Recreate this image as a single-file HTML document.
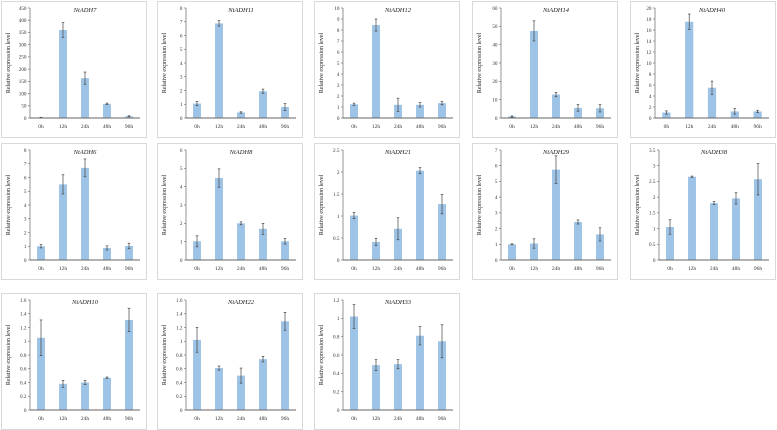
<!DOCTYPE html>
<html><head><meta charset="utf-8">
<style>
html,body{margin:0;padding:0;background:#fff;}
svg{display:block;font-family:"Liberation Serif",serif;}
</style></head>
<body>
<svg id="chart" width="777" height="430" viewBox="0 0 777 430"></svg>
<script>
const categories = ["0h","12h","24h","48h","96h"];
const geneNames = ["NtADH7","NtADH11","NtADH12","NtADH14","NtADH40","NtADH6","NtADH8","NtADH21","NtADH29","NtADH38","NtADH10","NtADH22","NtADH33"];
const yMaxes = [450,8,10,60,20,8,6,2.5,7,3.5,1.6,1.6,1.2];
const ySteps = [50,1,1,10,2,1,1,0.5,1,0.5,0.2,0.2,0.2];
const valuesADH7 = [2,360,163,58,7];
const errorsADH7 = [1,30,25,3,2];
const valuesADH11 = [1.05,6.88,0.4,1.95,0.8];
const errorsADH11 = [0.15,0.2,0.05,0.15,0.25];
const valuesADH12 = [1.25,8.45,1.2,1.2,1.35];
const errorsADH12 = [0.1,0.55,0.6,0.2,0.15];
const valuesADH14 = [0.8,47.5,12.8,5.5,5.3];
const errorsADH14 = [0.3,5.5,1.2,1.8,2];
const valuesADH40 = [1,17.5,5.5,1.2,1.2];
const errorsADH40 = [0.3,1.4,1.2,0.5,0.2];
const valuesADH6 = [1,5.5,6.7,0.88,1.02];
const errorsADH6 = [0.12,0.7,0.65,0.15,0.2];
const valuesADH8 = [1.02,4.47,2,1.7,1.02];
const errorsADH8 = [0.3,0.5,0.08,0.3,0.15];
const valuesADH21 = [1.01,0.41,0.71,2.03,1.27];
const errorsADH21 = [0.07,0.08,0.25,0.07,0.22];
const valuesADH29 = [1,1.05,5.75,2.42,1.63];
const errorsADH29 = [0.03,0.3,0.88,0.13,0.42];
const valuesADH38 = [1.05,2.65,1.81,1.96,2.57];
const errorsADH38 = [0.23,0.02,0.05,0.18,0.5];
const valuesADH10 = [1.05,0.38,0.4,0.47,1.31];
const errorsADH10 = [0.26,0.05,0.03,0.01,0.17];
const valuesADH22 = [1.02,0.61,0.5,0.74,1.29];
const errorsADH22 = [0.18,0.03,0.11,0.04,0.13];
const valuesADH33 = [1.02,0.49,0.5,0.81,0.75];
const errorsADH33 = [0.13,0.06,0.05,0.1,0.18];
const allValues = [valuesADH7,valuesADH11,valuesADH12,valuesADH14,valuesADH40,valuesADH6,valuesADH8,valuesADH21,valuesADH29,valuesADH38,valuesADH10,valuesADH22,valuesADH33];
const allErrors = [errorsADH7,errorsADH11,errorsADH12,errorsADH14,errorsADH40,errorsADH6,errorsADH8,errorsADH21,errorsADH29,errorsADH38,errorsADH10,errorsADH22,errorsADH33];

const NS="http://www.w3.org/2000/svg";
const svg=document.getElementById('chart');
function mk(tag,attrs,parent,text){const e=document.createElementNS(NS,tag);for(const k in attrs)e.setAttribute(k,attrs[k]);if(text!==undefined)e.textContent=text;(parent||svg).appendChild(e);return e;}
const colLefts=[1,157,314,472,630];
const rowTops=[1,143,293];
const boxW=145, boxH=136;
function fmt(v){return String(parseFloat(v.toFixed(2)));}

geneNames.forEach((name,i)=>{
  const r=Math.floor(i/5), c=i%5;
  const bx=colLefts[c], by=rowTops[r];
  const g=mk('g',{});
  
  
  const box=mk('rect',{x:bx+0.5,y:by+0.5,width:boxW,height:boxH,fill:'#fff',stroke:'#d9d9d9','stroke-width':1},g);
  
  
  const off=(r===0&&c===4)?25:29;
  const x0=bx+off, x1=bx+boxW-6;
  const yTop=by+7, yBot=by+117;
  const ymax=yMaxes[i], step=ySteps[i];
  const yS=v=>yBot-(v/ymax)*(yBot-yTop);
  const band=(x1-x0)/categories.length;
  const xS=k=>x0+band*(k+0.5);
  // title
  const t=mk('text',{x:(x0+x1)/2,y:by+11,'text-anchor':'middle','font-size':6.5,'font-style':'italic',fill:'#222'},g,name);
  
  
  // y axis title
  const yt=mk('text',{x:0,y:0,transform:`translate(${bx+9},${(yTop+yBot)/2}) rotate(-90)`,'text-anchor':'middle','font-size':6,fill:'#222'},g,'Relative expression level');
  
  
  // y ticks
  const n=Math.round(ymax/step);
  for(let k=0;k<=n;k++){
    const v=k*step, y=yS(v);
    const tk=mk('line',{x1:x0-2,x2:x0,y1:y,y2:y,stroke:'#666','stroke-width':0.6},g);
    
    
    const tl=mk('text',{x:x0-3.5,y:y+1.8,'text-anchor':'end','font-size':5.2,fill:'#333'},g,fmt(v));
    
    
  }
  // bars
  const vals=allValues[i], errs=allErrors[i];
  const bw=band*0.36;
  categories.forEach((cat,k)=>{
    const b=mk('rect',{x:xS(k)-bw/2,y:yS(vals[k]),width:bw,height:yBot-yS(vals[k]),fill:'#9dc3e6'},g);
    
    
    const lo=Math.max(0,vals[k]-errs[k]), hi=vals[k]+errs[k];
    const eg=mk('g',{stroke:'#444','stroke-width':0.7},g);
    
    
    mk('line',{x1:xS(k),x2:xS(k),y1:yS(lo),y2:yS(hi)},eg);
    mk('line',{x1:xS(k)-1.3,x2:xS(k)+1.3,y1:yS(lo),y2:yS(lo)},eg);
    mk('line',{x1:xS(k)-1.3,x2:xS(k)+1.3,y1:yS(hi),y2:yS(hi)},eg);
    const xl=mk('text',{x:xS(k),y:by+127,'text-anchor':'middle','font-size':5.5,fill:'#333'},g,cat);
    
    
  });
  const ya=mk('line',{x1:x0,x2:x0,y1:yTop,y2:yBot,stroke:'#666','stroke-width':0.7},g);
  
  
  const xa=mk('line',{x1:x0,x2:x1,y1:yBot,y2:yBot,stroke:'#666','stroke-width':0.9},g);
  
  
});
</script>
</body></html>
